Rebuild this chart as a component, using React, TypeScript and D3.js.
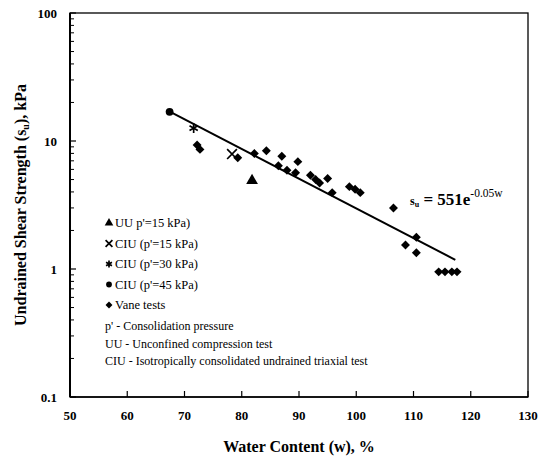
import React from "react";
import * as d3 from "d3";

const W = 542;
const H = 458;

// x-axis ticks (water content, %)
const xTicks = [50, 60, 70, 80, 90, 100, 110, 120, 130];
const yTickLabels = ["0.1", "1", "10", "100"];
const yMajor = [0.1, 1, 10, 100];

// UU test
const uuW = [81.8];
const uuSu = [4.9];
// CIU p'=15 kPa
const ciu15W = [78.3];
const ciu15Su = [7.9];
// CIU p'=30 kPa
const ciu30W = [71.6];
const ciu30Su = [12.6];
// CIU p'=45 kPa
const ciu45W = [67.4];
const ciu45Su = [16.9];
// Vane tests
const vaneW = [72.2, 72.7, 79.3, 82.2, 84.3, 87.0, 86.4, 87.9, 89.8, 89.4, 92.0, 92.9, 93.6, 95.0, 95.8, 98.8, 99.8, 100.7, 106.5, 110.5, 108.6, 110.5, 114.4, 115.5, 116.7, 117.6];
const vaneSu = [9.3, 8.6, 7.4, 8.0, 8.4, 7.6, 6.4, 5.9, 6.9, 5.65, 5.4, 5.0, 4.7, 5.1, 3.95, 4.4, 4.2, 3.95, 3.0, 1.77, 1.54, 1.34, 0.95, 0.95, 0.95, 0.95];
// trend line end points
const trendW = [67.6, 117.3];
const trendSu = [16.8, 1.18];

const legendItems = [
  { sym: "triangle", label: "UU  p'=15 kPa)" },
  { sym: "times", label: "CIU (p'=15 kPa)" },
  { sym: "asterisk", label: "CIU (p'=30 kPa)" },
  { sym: "circle", label: "CIU (p'=45 kPa)" },
  { sym: "diamond", label: "Vane tests" },
];
const notes = [
  "p' - Consolidation pressure",
  "UU - Unconfined compression test",
  "CIU - Isotropically consolidated undrained triaxial test",
];

const L = 70, R = 528, T = 13, B = 397;
const serif = "'Liberation Serif', 'Times New Roman', serif";

function symPath(kind: string, size: number): string {
  const map: Record<string, any> = {
    triangle: d3.symbolTriangle,
    times: d3.symbolTimes,
    asterisk: d3.symbolAsterisk,
    circle: d3.symbolCircle,
    diamond: d3.symbolSquare,
  };
  return d3.symbol(map[kind], size)() as string;
}

function Marker({ kind, x, y, size }: { kind: string; x: number; y: number; size: number }) {
  const stroke = kind === "times" || kind === "asterisk";
  const rot = kind === "diamond" ? 45 : 0;
  return (
    <path
      d={symPath(kind, size)}
      transform={`translate(${x},${y}) rotate(${rot})`}
      fill={stroke ? "none" : "#000"}
      stroke={stroke ? "#000" : "none"}
      strokeWidth={stroke ? 1.7 : 0}
    />
  );
}

export default function App() {
  const x = d3.scaleLinear().domain([50, 130]).range([L, R]);
  const y = d3.scaleLog().domain([0.1, 100]).range([B, T]);

  const minor: number[] = [];
  for (let e = -1; e < 2; e++) {
    for (let k = 2; k <= 9; k++) minor.push(k * Math.pow(10, e));
  }

  const line = d3
    .line<number>()
    .x((_, i) => x(trendW[i]))
    .y((_, i) => y(trendSu[i]));

  const series = [
    { kind: "triangle", w: uuW, s: uuSu, size: 60 },
    { kind: "times", w: ciu15W, s: ciu15Su, size: 64 },
    { kind: "asterisk", w: ciu30W, s: ciu30Su, size: 64 },
    { kind: "circle", w: ciu45W, s: ciu45Su, size: 48 },
    { kind: "diamond", w: vaneW, s: vaneSu, size: 40 },
  ];

  return (
    <svg width={W} height={H} style={{ position: "absolute", left: 0, top: 0, background: "#fff" }}>
      <rect x={0} y={0} width={W} height={H} fill="#fff" />
      {/* frame */}
      <rect x={L} y={T} width={R - L} height={B - T} fill="none" stroke="#000" strokeWidth={1.3} />
      <line x1={L} x2={L} y1={T} y2={B} stroke="#000" strokeWidth={2} />
      <line x1={L} x2={R} y1={B} y2={B} stroke="#000" strokeWidth={1.7} />

      {/* y ticks */}
      {yMajor.map((v) => (
        <line key={"ym" + v} x1={L} x2={L + 6} y1={y(v)} y2={y(v)} stroke="#000" strokeWidth={1.2} />
      ))}
      {minor.map((v) => (
        <line key={"yn" + v} x1={L} x2={L + 4} y1={y(v)} y2={y(v)} stroke="#000" strokeWidth={1} />
      ))}
      {yMajor.map((v, i) => (
        <text key={"yl" + v} x={L - 13} y={y(v)} dy="0.35em" textAnchor="end" fontFamily={serif} fontWeight="bold" fontSize={13}>
          {yTickLabels[i]}
        </text>
      ))}

      {/* x ticks */}
      {xTicks.map((v) => (
        <line key={"xt" + v} x1={x(v)} x2={x(v)} y1={B} y2={B - 6} stroke="#000" strokeWidth={1.2} />
      ))}
      {xTicks.map((v) => (
        <text key={"xl" + v} x={x(v)} y={420} textAnchor="middle" fontFamily={serif} fontWeight="bold" fontSize={13}>
          {v}
        </text>
      ))}

      {/* axis titles */}
      <text x={(L + R) / 2} y={452} textAnchor="middle" fontFamily={serif} fontWeight="bold" fontSize={16}>
        Water Content (w), %
      </text>
      <text
        transform={`translate(26,${(T + B) / 2}) rotate(-90)`}
        textAnchor="middle"
        fontFamily={serif}
        fontWeight="bold"
        fontSize={16}
      >
        Undrained Shear Strength (s<tspan fontSize={10} dy={3}>u</tspan>
        <tspan dy={-3}>), kPa</tspan>
      </text>

      {/* trend */}
      <path d={line(trendW) as string} fill="none" stroke="#000" strokeWidth={2} />

      {/* points */}
      {series.map((sr) =>
        sr.w.map((w, i) => <Marker key={sr.kind + i} kind={sr.kind} x={x(w)} y={y(sr.s[i])} size={sr.size} />)
      )}

      {/* equation */}
      <text x={410} y={205} fontFamily={serif} fontWeight="bold" fontSize={17}>
        <tspan fontSize={12}>s</tspan>
        <tspan fontSize={8} dy={2}>u</tspan>
        <tspan dy={-2}> = 551e</tspan>
        <tspan fontSize={11.5} fontWeight="normal" dy={-8}>-0.05w</tspan>
      </text>

      {/* legend */}
      {legendItems.map((it, i) => {
        const yy = 223 + i * 20.5;
        return (
          <g key={"lg" + i}>
            <Marker kind={it.sym} x={109} y={yy} size={it.sym === "diamond" ? 24 : it.sym === "circle" ? 26 : 32} />
            <text x={115} y={yy} dy="0.35em" fontFamily={serif} fontSize={12.5}>
              {it.label}
            </text>
          </g>
        );
      })}
      {notes.map((n, i) => (
        <text key={"nt" + i} x={105} y={326 + i * 17.5} dy="0.35em" fontFamily={serif} fontSize={12}>
          {n}
        </text>
      ))}
    </svg>
  );
}
